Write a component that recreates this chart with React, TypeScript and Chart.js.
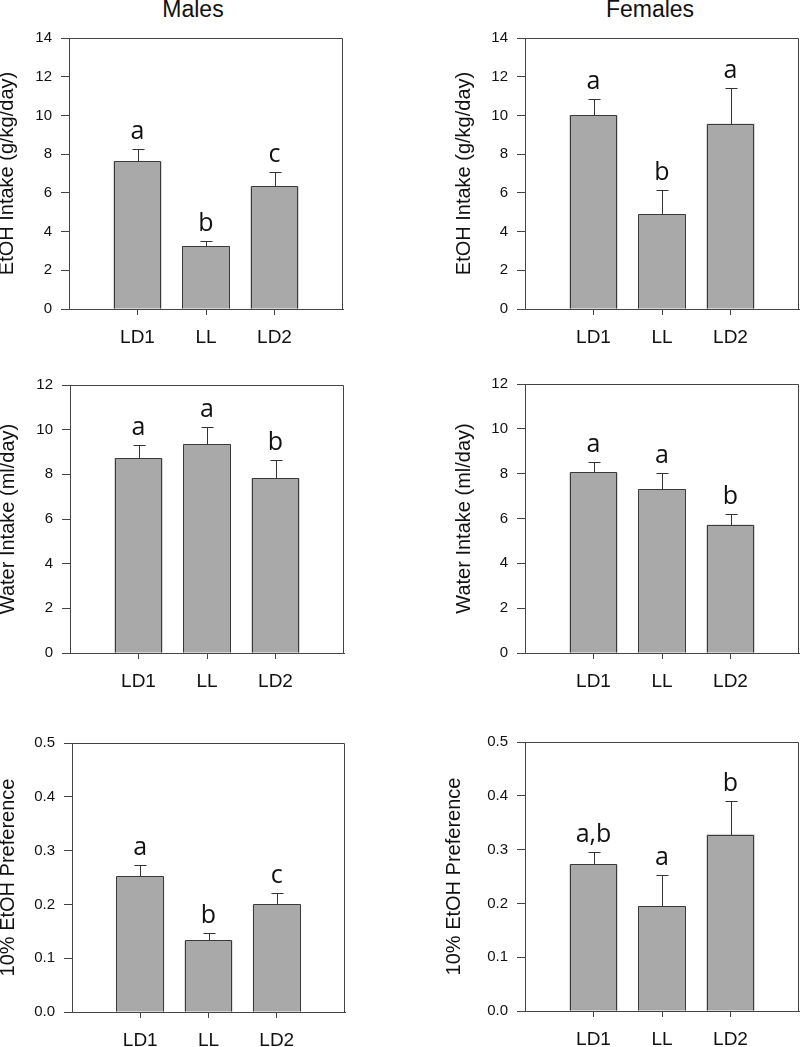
import React, { useEffect, useRef } from 'react';
import { Chart, registerables } from 'chart.js';

Chart.register(...registerables);

// ---- data ----
const categories = ['LD1', 'LL', 'LD2'];

const malesEtohMean = [7.62, 3.26, 6.33];
const malesEtohErr = [0.65, 0.24, 0.75];
const malesEtohLetters = ['a', 'b', 'c'];

const femalesEtohMean = [10.01, 4.89, 9.57];
const femalesEtohErr = [0.85, 1.27, 1.87];
const femalesEtohLetters = ['a', 'b', 'a'];

const malesWaterMean = [8.73, 9.34, 7.84];
const malesWaterErr = [0.6, 0.78, 0.81];
const malesWaterLetters = ['a', 'a', 'b'];

const femalesWaterMean = [8.06, 7.3, 5.72];
const femalesWaterErr = [0.46, 0.75, 0.5];
const femalesWaterLetters = ['a', 'a', 'b'];

const malesPrefMean = [0.252, 0.133, 0.2];
const malesPrefErr = [0.021, 0.013, 0.022];
const malesPrefLetters = ['a', 'b', 'c'];

const femalesPrefMean = [0.273, 0.195, 0.328];
const femalesPrefErr = [0.022, 0.058, 0.063];
const femalesPrefLetters = ['a,b', 'a', 'b'];

const etohTitle = 'EtOH Intake (g/kg/day)';
const waterTitle = 'Water Intake (ml/day)';
const prefTitle = '10% EtOH Preference';

// ---- styling / layout ----
const AXIS = '#444';
const TEXT = '#111';
const BAR = '#a9a9a9';
const BAR_EDGE = '#3a3a3a';
const FONT = "'Liberation Sans', Arial, sans-serif";
const LETTER_FONT = "'Open Sans', 'Noto Sans', sans-serif";

type PanelCfg = {
  means: number[];
  errs: number[];
  letters: string[];
  yTitle: string;
  yMax: number;
  yStep: number;
  decimals: number;
  l: number; t: number; r: number; b: number;
  titleX: number;
};

const panels: PanelCfg[] = [
  { means: malesEtohMean, errs: malesEtohErr, letters: malesEtohLetters, yTitle: etohTitle, yMax: 14, yStep: 2, decimals: 0, l: 69, t: 34, r: 343, b: 309, titleX: 7 },
  { means: femalesEtohMean, errs: femalesEtohErr, letters: femalesEtohLetters, yTitle: etohTitle, yMax: 14, yStep: 2, decimals: 0, l: 525, t: 34, r: 799, b: 309, titleX: 464 },
  { means: malesWaterMean, errs: malesWaterErr, letters: malesWaterLetters, yTitle: waterTitle, yMax: 12, yStep: 2, decimals: 0, l: 70, t: 381, r: 344, b: 653, titleX: 8 },
  { means: femalesWaterMean, errs: femalesWaterErr, letters: femalesWaterLetters, yTitle: waterTitle, yMax: 12, yStep: 2, decimals: 0, l: 525, t: 380, r: 799, b: 653, titleX: 464 },
  { means: malesPrefMean, errs: malesPrefErr, letters: malesPrefLetters, yTitle: prefTitle, yMax: 0.5, yStep: 0.1, decimals: 1, l: 72, t: 739, r: 345, b: 1012, titleX: 8 },
  { means: femalesPrefMean, errs: femalesPrefErr, letters: femalesPrefLetters, yTitle: prefTitle, yMax: 0.5, yStep: 0.1, decimals: 1, l: 525, t: 738, r: 799, b: 1011, titleX: 454 },
];

const TITLE_SIZE = 20;

function Panel({ cfg }: { cfg: PanelCfg }) {
  const ref = useRef<HTMLCanvasElement>(null);
  const cLeft = Math.round(cfg.titleX - TITLE_SIZE / 2);
  const cTop = cfg.t - 14;
  const cRight = Math.min(800, cfg.r + 2);
  const cBottom = cfg.b + 46;
  const width = cRight - cLeft;
  const height = cBottom - cTop;
  const padRight = width - (cfg.r - cLeft);

  useEffect(() => {
    if (!ref.current) return;
    const decor = {
      id: 'decor',
      afterDatasetsDraw(chart: any) {
        const { ctx, chartArea } = chart;
        const ys = chart.scales.y;
        const meta = chart.getDatasetMeta(0);
        ctx.save();
        ctx.strokeStyle = AXIS;
        ctx.lineWidth = 1;
        ctx.beginPath();
        const top = Math.round(chartArea.top) + 0.5;
        const right = Math.round(chartArea.right) - 0.5;
        ctx.moveTo(chartArea.left, top);
        ctx.lineTo(right, top);
        ctx.lineTo(right, chartArea.bottom);
        ctx.stroke();
        meta.data.forEach((el: any, i: number) => {
          const { x: cx, y: yBar, base, width: bw } = el.getProps(['x', 'y', 'base', 'width'], true);
          // crisp bar outline
          const l = Math.round(cx - bw / 2) + 0.5;
          const r = Math.round(cx + bw / 2) - 0.5;
          const t = Math.round(yBar) + 0.5;
          const b = Math.round(base) - 0.5;
          ctx.strokeStyle = BAR_EDGE;
          ctx.beginPath();
          ctx.moveTo(l, b);
          ctx.lineTo(l, t);
          ctx.lineTo(r, t);
          ctx.lineTo(r, b);
          ctx.stroke();
          // error bar
          const x = Math.round(cx) + 0.5;
          const yTop = Math.round(ys.getPixelForValue(cfg.means[i] + cfg.errs[i])) + 0.5;
          ctx.strokeStyle = '#333';
          ctx.beginPath();
          ctx.moveTo(x, t);
          ctx.lineTo(x, yTop);
          ctx.moveTo(x - 6, yTop);
          ctx.lineTo(x + 6, yTop);
          ctx.stroke();
          // significance letter
          ctx.fillStyle = TEXT;
          ctx.font = `25px ${LETTER_FONT}`;
          ctx.textAlign = 'center';
          ctx.textBaseline = 'alphabetic';
          ctx.fillText(cfg.letters[i], cx, yTop - 11);
        });
        ctx.restore();
      },
    };
    const chart = new Chart(ref.current, {
      type: 'bar',
      data: {
        datasets: [
          {
            data: cfg.means.map((v, i) => ({ x: i + 1, y: v })),
            backgroundColor: BAR,
            borderWidth: 0,
            barPercentage: 0.7,
            categoryPercentage: 1,
          },
        ],
      },
      options: {
        responsive: false,
        animation: false,
        devicePixelRatio: 1,
        layout: { padding: { left: 0, top: cfg.t - cTop, right: padRight, bottom: 0 } },
        plugins: { legend: { display: false }, tooltip: { enabled: false }, title: { display: false } },
        scales: {
          x: {
            type: 'linear',
            position: 'bottom',
            offset: false,
            min: 0,
            max: 4,
            afterFit: (s: any) => {
              s.height = cBottom - cfg.b;
              s.paddingLeft = 0;
              s.paddingRight = 0;
            },
            ticks: {
              stepSize: 1,
              autoSkip: false,
              maxRotation: 0,
              padding: 11,
              color: TEXT,
              font: { family: FONT, size: 19 },
              callback: (v: any) => categories[Number(v) - 1] ?? '',
            },
            grid: {
              offset: false,
              drawOnChartArea: false,
              drawTicks: true,
              tickLength: 6,
              tickColor: (c: any) => (c.index === 0 || c.index === 4 ? 'rgba(0,0,0,0)' : AXIS),
            },
            border: { display: true, color: AXIS, width: 1 },
          },
          y: {
            min: 0,
            max: cfg.yMax,
            afterFit: (s: any) => { s.width = cfg.l - cLeft; },
            ticks: {
              stepSize: cfg.yStep,
              padding: 9,
              color: TEXT,
              font: { family: FONT, size: 15 },
              callback: (v: any) => Number(v).toFixed(cfg.decimals),
            },
            grid: { drawOnChartArea: false, drawTicks: true, tickLength: 8, tickColor: AXIS },
            border: { display: true, color: AXIS, width: 1 },
            title: {
              display: true,
              text: cfg.yTitle,
              color: TEXT,
              padding: 0,
              font: { family: FONT, size: TITLE_SIZE, lineHeight: 1 },
            },
          },
        },
      },
      plugins: [decor],
    } as any);
    return () => chart.destroy();
  }, [cfg]);

  return (
    <canvas
      ref={ref}
      width={width}
      height={height}
      style={{ position: 'absolute', left: cLeft, top: cTop, width, height }}
    />
  );
}

export default function App() {
  const titleStyle: React.CSSProperties = {
    position: 'absolute',
    top: -2,
    width: 200,
    textAlign: 'center',
    fontFamily: FONT,
    fontSize: 23,
    lineHeight: '23px',
    color: TEXT,
  };
  return (
    <div style={{ position: 'absolute', left: 0, top: 0, width: 800, height: 1047, background: '#fff', overflow: 'hidden' }}>
      <div style={{ ...titleStyle, left: 193 - 100 }}>Males</div>
      <div style={{ ...titleStyle, left: 650 - 100 }}>Females</div>
      {panels.map((p, i) => (
        <Panel key={i} cfg={p} />
      ))}
    </div>
  );
}
